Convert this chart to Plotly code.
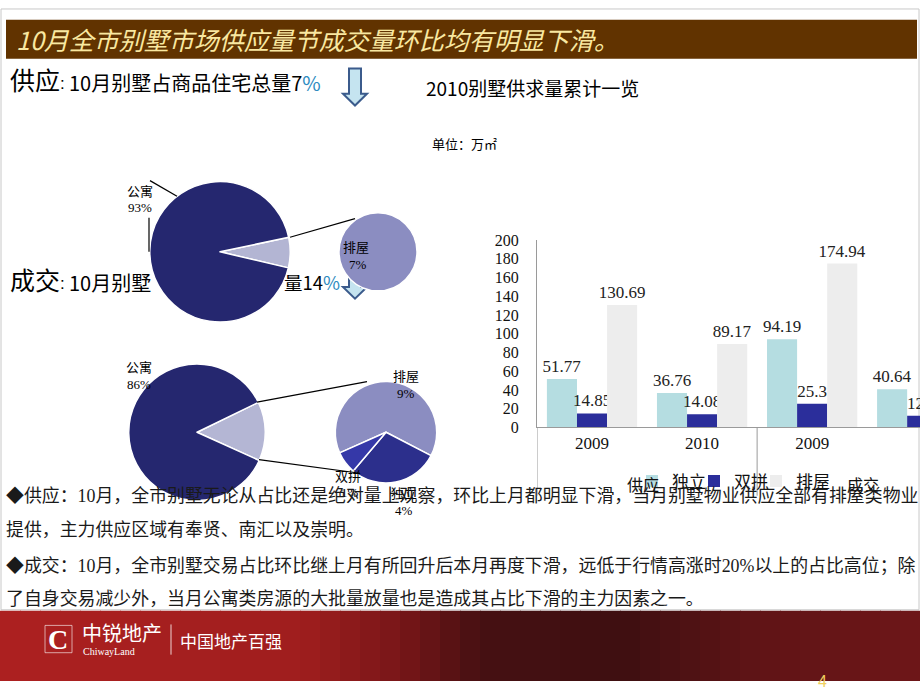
import plotly.graph_objects as go

W, H = 920, 690

def px(x):
    return x / W

def py(y):
    return 1 - y / H

# ---------------- data ----------------
supply_labels = ["排屋", "公寓"]
supply_share = [7, 93]
deal_labels = ["排屋", "公寓"]
deal_share = [14, 86]
deal_villa_labels = ["排屋", "独立", "双拼"]
deal_villa_share = [9, 4, 1]

group_outer = ["供应", "供应", "成交", "成交"]
group_years = ["2009", "2010", "2009", "2010"]
detached = [51.77, 36.76, 94.19, 40.64]
semi_detached = [14.85, 14.08, 25.3, 12.4]
townhouse = [130.69, 89.17, 174.94, None]
series_names = ["独立", "双拼", "排屋"]
y_ticks = list(range(0, 201, 20))

CJK = "Noto Sans CJK SC"
SERIF = "Liberation Serif, Noto Sans CJK SC"

fig = go.Figure()

x_idx = list(range(len(group_years)))

# ---------------- bar chart ----------------
bar_colors = ["#B5DDE1", "#2B2E9B", "#EDEDED"]
legend_ids = ["legend", "legend2", "legend3"]
for name, vals, col, lg in zip(series_names, [detached, semi_detached, townhouse], bar_colors, legend_ids):
    fig.add_trace(go.Bar(
        name=name, x=x_idx, y=vals, legend=lg,
        marker=dict(color=col, line=dict(width=0)),
        text=[("" if v is None else f"{v:g}") for v in vals],
        textposition="outside", cliponaxis=True, constraintext="none",
        textfont=dict(family=SERIF, size=17, color="#222"),
        hoverinfo="skip",
    ))

# ---------------- pies ----------------
def dom(x0, x1, y0, y1):
    return dict(x=[px(x0), px(x1)], y=[py(y1), py(y0)])

fig.add_trace(go.Pie(labels=supply_labels, values=supply_share, sort=False,
                     direction="clockwise", rotation=78, textinfo="none",
                     marker=dict(colors=["#B3B5D3", "#25276F"], line=dict(color="white", width=1.5)),
                     domain=dom(148, 292, 178, 322), showlegend=False, hoverinfo="skip"))
fig.add_trace(go.Pie(labels=["排屋"], values=[supply_share[0]], sort=False, textinfo="none",
                     marker=dict(colors=["#8B8DC1"], line=dict(color="white", width=1.5)),
                     domain=dom(338, 418, 210, 290), showlegend=False, hoverinfo="skip"))
fig.add_trace(go.Pie(labels=deal_labels, values=deal_share, sort=False,
                     direction="clockwise", rotation=64, textinfo="none",
                     marker=dict(colors=["#B4B6D4", "#25276F"], line=dict(color="white", width=1.5)),
                     domain=dom(127, 267, 365, 505), showlegend=False, hoverinfo="skip"))
fig.add_trace(go.Pie(labels=deal_villa_labels, values=deal_villa_share, sort=False,
                     direction="clockwise", rotation=246, textinfo="none",
                     marker=dict(colors=["#8B8DC1", "#2C2F8C", "#3538A8"], line=dict(color="white", width=1.5)),
                     domain=dom(334, 438, 383, 487), showlegend=False, hoverinfo="skip"))

shapes = []
# slide frame
shapes.append(dict(type="rect", xref="paper", yref="paper", x0=px(1), x1=px(919), y0=py(617), y1=py(1),
                   line=dict(color="#C8C8C8", width=1), layer="below"))
# title bar
shapes.append(dict(type="rect", xref="paper", yref="paper", x0=px(6), x1=px(917), y0=py(52), y1=py(12),
                   fillcolor="#613300", line=dict(width=0), layer="below"))

# arrows
def arrow(cx, top, bottom):
    sw, hw, hh = 6, 12, 12
    pts = [(cx - sw, top), (cx + sw, top), (cx + sw, bottom - hh), (cx + hw, bottom - hh),
           (cx, bottom), (cx - hw, bottom - hh), (cx - sw, bottom - hh)]
    path = "M " + " L ".join(f"{px(x)},{py(y)}" for x, y in pts) + " Z"
    return dict(type="path", xref="paper", yref="paper", path=path, fillcolor="#C5E4F0",
                line=dict(color="#3B5B8C", width=2), layer="below")

shapes.append(arrow(355, 62, 100))
shapes.append(arrow(355, 262, 298))

# leader lines
def line(x0, y0, x1, y1, color="black", w=1.2, layer="above"):
    return dict(type="line", xref="paper", yref="paper", x0=px(x0), y0=py(y0), x1=px(x1), y1=py(y1),
                line=dict(color=color, width=w), layer=layer)

shapes.append(line(150, 177, 177, 193))
shapes.append(line(149, 215, 149, 250))
shapes.append(line(290, 235, 355, 216))
shapes.append(line(257, 404, 367, 383))
shapes.append(line(259, 463, 360, 477))

# category group dividers (axis start + between groups)
div_pos = [-0.5] + [i + 0.5 for i in range(len(group_outer) - 1) if group_outer[i] != group_outer[i + 1]]
for d in div_pos:
    shapes.append(dict(type="line", xref="x", yref="paper", x0=d, x1=d, y0=py(500), y1=py(430),
                       line=dict(color="#9A9A9A", width=1), layer="above"))

# footer gradient
stops = [(0, (172, 32, 32)), (300, (160, 30, 30)), (400, (120, 22, 24)), (480, (70, 16, 18)),
         (620, (62, 15, 17)), (760, (96, 20, 22)), (920, (110, 22, 24))]

def col_at(x):
    for (xa, ca), (xb, cb) in zip(stops[:-1], stops[1:]):
        if xa <= x <= xb:
            t = (x - xa) / (xb - xa)
            c = [round(a + (b - a) * t) for a, b in zip(ca, cb)]
            return f"rgb({c[0]},{c[1]},{c[2]})"
    return "rgb(110,22,24)"

step = 20
for x in range(0, 920, step):
    shapes.append(dict(type="rect", xref="paper", yref="paper", x0=px(x), x1=px(min(x + step + 1, 920)),
                       y0=0, y1=py(618), fillcolor=col_at(x + step / 2), line=dict(width=0), layer="above"))
# logo elements
shapes.append(dict(type="rect", xref="paper", yref="paper", x0=px(45), x1=px(72), y0=py(661), y1=py(633),
                   line=dict(color="rgba(255,255,255,0.6)", width=1), layer="above"))
shapes.append(line(171, 632, 171, 663, color="rgba(255,255,255,0.8)", w=1))

annotations = []

def txt(x, y, text, size, color="black", family=CJK, anchor="left", yanchor="middle", xref="paper"):
    annotations.append(dict(x=(px(x) if xref == "paper" else x), y=py(y), xref=xref, yref="paper",
                            text=text, showarrow=False,
                            xanchor=anchor, yanchor=yanchor, font=dict(size=size, color=color, family=family)))

txt(14, 32, "<i>10月全市别墅市场供应量节成交量环比均有明显下滑。</i>", 25, color="#F9E8A0")

BLUE_PCT = "<span style='color:#2E8BC0'>%</span>"
txt(8, 73, "供应", 25)
txt(62, 77, ":", 17, family="Liberation Sans", anchor="center")
txt(67, 76, "10月别墅占商品住宅总量7" + BLUE_PCT, 20)
txt(532, 81, "2010别墅供求量累计一览", 19, anchor="center")
txt(430, 139, "单位：万㎡", 13)

txt(8, 278, "成交", 25)
txt(62, 282, ":", 17, family="Liberation Sans", anchor="center")
txt(67, 281, "10月别墅", 20)
txt(282, 281, "量14" + BLUE_PCT, 18.5)

# pie labels
txt(140, 187, "公寓", 13, anchor="center")
txt(140, 205, "93%", 13, family=SERIF, anchor="center")
txt(356, 245, "排屋", 13, anchor="center")
txt(358, 263, "7%", 13, family=SERIF, anchor="center")
txt(139, 368, "公寓", 13, anchor="center")
txt(139, 386, "86%", 13, family=SERIF, anchor="center")
txt(406, 377, "排屋", 13, anchor="center")
txt(406, 395, "9%", 13, family=SERIF, anchor="center")
txt(348, 479, "双拼", 13, anchor="center")
txt(350, 497, "1%", 13, family=SERIF, anchor="center")
txt(404, 497, "独立", 13, anchor="center")
txt(404, 515, "4%", 13, family=SERIF, anchor="center")

# outer category labels of the bar chart
for g in dict.fromkeys(group_outer):
    idx = [i for i, v in enumerate(group_outer) if v == g]
    txt(sum(idx) / len(idx) - 0.04, 488, g, 16, color="#111", anchor="center", xref="x")

# body text
body = [
    (500, "◆供应：10月，全市别墅无论从占比还是绝对量上观察，环比上月都明显下滑，当月别墅物业供应全部有排屋类物业"),
    (535, "提供，主力供应区域有奉贤、南汇以及崇明。"),
    (572, "◆成交：10月，全市别墅交易占比环比继上月有所回升后本月再度下滑，远低于行情高涨时20%以上的占比高位；除"),
    (606, "了自身交易减少外，当月公寓类房源的大批量放量也是造成其占比下滑的主力因素之一。"),
]
for y, t in body:
    txt(4, y, t, 17.9, color="#1A1A1A", family=SERIF)

# footer text
txt(58, 647, "<b>C</b>", 28, color="white", family="Liberation Serif", anchor="center")
txt(80, 640, "中锐地产", 20, color="white")
txt(81, 660, "ChiwayLand", 10, color="white", family="Liberation Serif")
txt(178, 648, "中国地产百强", 17, color="white")
txt(822, 690, "4", 16, color="#F0D060", family="Liberation Sans", anchor="center", yanchor="middle")

legend_style = dict(orientation="h", yanchor="top", xanchor="left",
                    font=dict(family=CJK, size=17, color="#111"), bgcolor="rgba(0,0,0,0)",
                    itemwidth=30, borderwidth=0)
legend_x = [632, 694, 756]

fig.update_layout(
    width=W, height=H, margin=dict(l=0, r=0, t=0, b=0),
    paper_bgcolor="white", plot_bgcolor="rgba(0,0,0,0)",
    barmode="group", bargap=0.18, bargroupgap=0,
    showlegend=True,
    legend=dict(x=px(legend_x[0]), y=py(467), **legend_style),
    legend2=dict(x=px(legend_x[1]), y=py(467), **legend_style),
    legend3=dict(x=px(legend_x[2]), y=py(467), **legend_style),
    xaxis=dict(domain=[px(537), 1], range=[-0.5, 2.98], tickvals=x_idx, ticktext=group_years,
               showline=True, linecolor="#9A9A9A", linewidth=1, ticks="", showgrid=False,
               zeroline=False, tickfont=dict(family=SERIF, size=17, color="#111")),
    yaxis=dict(domain=[py(430), py(238)], range=[0, 200], tickvals=y_ticks,
               showline=True, linecolor="#9A9A9A", linewidth=1, ticks="", showgrid=False,
               zeroline=False, ticklabelstandoff=14,
               tickfont=dict(family=SERIF, size=16, color="#111")),
    shapes=shapes, annotations=annotations,
)

fig.write_html("out.html")
